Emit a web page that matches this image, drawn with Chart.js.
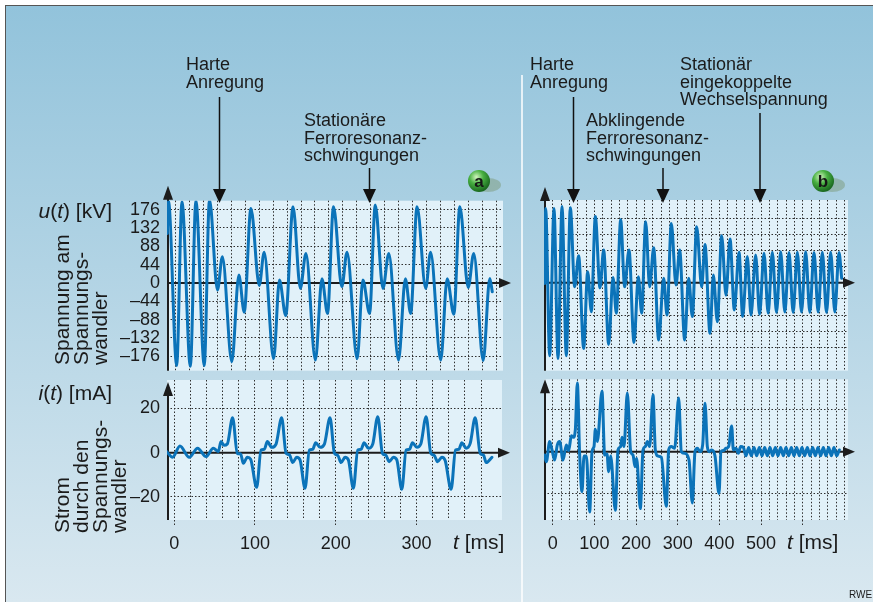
<!DOCTYPE html>
<html>
<head>
<meta charset="utf-8">
<script src="https://cdn.jsdelivr.net/npm/chart.js"></script>
<style>
  body { margin: 0; background: #fff; }
  #page { position: relative; width: 873px; height: 604px; overflow: hidden; font-family: "Liberation Sans", Arial, sans-serif; color: #1b1b1b; }
  #frame { position: absolute; left: 5px; top: 5px; right: -2px; bottom: 2px; border-top: 1px solid #555; border-left: 1px solid #555;
           background: linear-gradient(#92c3db, #d9e8f0); }
  canvas { position: absolute; }
  svg { position: absolute; left: 0; top: 0; }
  .note { position: absolute; font-size: 18px; line-height: 17.5px; white-space: pre; }
  .ttl { position: absolute; font-size: 21px; line-height: 21px; white-space: pre; }
  .vert { position: absolute; writing-mode: vertical-rl; transform: rotate(180deg); font-size: 21px; line-height: 19px; white-space: pre; }
</style>
</head>
<body>
<div id="page">
  <div id="frame"></div>
  <canvas id="voltA" width="425" height="200" style="left:95px;top:180px"></canvas>
  <canvas id="currA" width="425" height="200" style="left:95px;top:370px"></canvas>
  <canvas id="voltB" width="373" height="200" style="left:500px;top:180px"></canvas>
  <canvas id="currB" width="373" height="200" style="left:500px;top:370px"></canvas>

  <svg width="873" height="604">
    <defs>
      <radialGradient id="ball" cx="38%" cy="32%" r="70%">
        <stop offset="0" stop-color="#d2f5bf"/>
        <stop offset="0.45" stop-color="#48b042"/>
        <stop offset="1" stop-color="#17641c"/>
      </radialGradient>
    </defs>
    <line x1="522" y1="75" x2="522" y2="604" stroke="#fff" stroke-width="1.5"/>
    <g stroke="#111" stroke-width="1.5" fill="#111">
      <line x1="219.5" y1="97" x2="219.5" y2="192"/><polygon points="213,189 226,189 219.5,203" stroke="none"/>
      <line x1="369.5" y1="168" x2="369.5" y2="192"/><polygon points="363,189 376,189 369.5,203" stroke="none"/>
      <line x1="573.5" y1="97" x2="573.5" y2="192"/><polygon points="567,189 580,189 573.5,203" stroke="none"/>
      <line x1="663" y1="168" x2="663" y2="192"/><polygon points="656.5,189 669.5,189 663,203" stroke="none"/>
      <line x1="760" y1="113" x2="760" y2="192"/><polygon points="753.5,189 766.5,189 760,203" stroke="none"/>
    </g>
    <ellipse cx="488" cy="185" rx="13" ry="7" fill="#7f9f84" opacity="0.55"/>
    <circle cx="479" cy="181" r="11" fill="url(#ball)"/>
    <text x="479" y="187" text-anchor="middle" font-family="Liberation Sans, Arial" font-weight="bold" font-size="17" fill="#161616">a</text>
    <ellipse cx="832" cy="185" rx="13" ry="7" fill="#7f9f84" opacity="0.55"/>
    <circle cx="823" cy="181" r="11" fill="url(#ball)"/>
    <text x="823" y="187" text-anchor="middle" font-family="Liberation Sans, Arial" font-weight="bold" font-size="17" fill="#161616">b</text>
  </svg>

  <div class="note" style="left:186px;top:56px">Harte
Anregung</div>
  <div class="note" style="left:304px;top:112px">Stationäre
Ferroresonanz-
schwingungen</div>
  <div class="note" style="left:530px;top:56px">Harte
Anregung</div>
  <div class="note" style="left:586px;top:112px">Abklingende
Ferroresonanz-
schwingungen</div>
  <div class="note" style="left:680px;top:56px">Stationär
eingekoppelte
Wechselspannung</div>

  <div class="ttl" style="right:761px;top:200px"><i>u</i>(<i>t</i>) [kV]</div>
  <div class="ttl" style="right:761px;top:382px"><i>i</i>(<i>t</i>) [mA]</div>
  <div class="ttl" style="left:453px;top:531px"><i>t</i> [ms]</div>
  <div class="ttl" style="left:787px;top:531px"><i>t</i> [ms]</div>
  <div class="vert" style="left:52px;top:231px;height:134px">Spannung am
Spannungs-
wandler</div>
  <div class="vert" style="left:52px;top:408px;height:125px">Strom
durch den
Spannungs-
wandler</div>
  <div style="position:absolute;left:849px;top:589px;font-size:10px">RWE</div>
</div>

<script>
// ---- data ----
// (a) voltage at the transformer, kV over ms
const voltTimeA = [-12, -10.5, 1.4, 9, 21, 29, 41, 48.5, 60, 67, 80.6, 90.7, 98.4,
  108, 120, 127, 140.6, 149, 158, 168.5, 179, 187, 200.6, 210, 218,
  226.6, 238.6, 246, 260.6, 268.8, 278.4, 286.6, 297.6, 306, 320, 329.8, 337.4,
  346.6, 359, 366, 380.6, 389.8, 399.4, 408, 420, 428, 441.6, 451, 454.6];
const voltValueA = [119, 198, -198, 195, -200, 197, -198, 200, -17, 63, -189, 19, -70,
  179, -6, 74, -182, 7, -78, 183, -13, 71, -185, 10, -73,
  183, -9, 74, -182, 7, -73, 187, -13, 71, -185, 10, -73,
  183, -13, 74, -185, 10, -75, 183, -11, 71, -186, 11, -21];

// (a) current through the transformer, mA over ms
const currTimeA = [-9.5, -2.1, 7.0, 18.6, 28.9, 39.3, 48.4, 54.6, 57.9, 61.6, 65.7,
  72.3, 78.1, 82.2, 85.6, 90.5, 94.6, 102.1, 107.5, 111.6, 115.3, 120.7, 126.1,
  133.1, 138.5, 142.6, 146.7, 151.7, 155.8, 162.0, 167.4, 171.5, 175.2, 180.6, 186.0,
  193.0, 198.4, 202.5, 206.7, 211.6, 215.7, 221.9, 227.3, 231.4, 235.2, 240.5, 245.9,
  252.1, 257.9, 262.0, 266.2, 271.5, 275.7, 281.9, 287.2, 291.4, 295.1, 300.5, 305.4,
  312.0, 317.8, 322.0, 326.1, 331.5, 335.6, 343.0, 348.4, 352.5, 356.3, 361.6, 366.6,
  372.8, 379.0, 383.1, 386.4, 393.5];
const currValueA = [0.5, -2.1, 3.0, -2.1, 2.0, -1.8, 2.0, 0.5, 5.0, 3.3, 3.9,
  15.8, -0.3, -0.6, -4.8, -2.1, -3.0, -15.7, 1.2, 1.5, 5.0, 2.4, 3.9,
  15.8, -0.3, -0.9, -4.5, -2.1, -3.3, -16.1, 1.2, 1.5, 4.5, 2.4, 3.9,
  15.8, -0.3, -1.2, -4.5, -2.1, -3.3, -16.1, 1.2, 1.5, 4.5, 2.0, 3.9,
  16.3, -0.3, -1.1, -4.1, -2.1, -3.3, -16.6, 1.2, 1.5, 4.5, 2.4, 3.9,
  16.3, -0.3, -1.2, -4.1, -2.1, -3.6, -16.6, 1.2, 1.5, 4.5, 2.0, 4.2,
  15.8, -0.3, -1.1, -4.5, -2.1];

// (b) voltage, decaying ferroresonance then steady 50 Hz
const voltTimeB = [-19.3, -16.9, -7.3, 3.1, 12.7, 22.3, 32.7, 42.3, 52.7, 62.3, 74.3, 83.9, 92.7,
  102.3, 113.5, 122.3, 134.3, 144.7, 152.7, 163.1, 172.7, 183.1, 195.1, 205.5, 213.5,
  223.1, 232.7, 242.3, 254.3, 266.3, 274.3, 284.7, 295.9, 304.7, 316.7, 326.3, 335.1,
  345.5, 357.5, 365.5, 377.5, 385.5, 395.1, 405.5, 415.9, 425.5, 435.9,
  447.1, 455.9, 467.1, 475.9, 487.1, 496.5, 507.1, 517.1, 527.1, 537.1, 547.1, 557.1,
  567.1, 577.1, 587.1, 597.1, 607.1, 617.1, 627.1, 637.1, 647.1, 657.1, 667.1, 677.1,
  687.1, 693.5];
const voltValueB = [-2, 202, -199, 202, -206, 207, -199, 204, -11, 73, -179, 30, -79,
  180, -14, 89, -168, 14, -83, 171, -11, 89, -163, 16, -83,
  166, -11, 95, -156, 12, -88, 161, -6, 89, -156, 12, -92,
  152, -11, 104, -138, 21, -106, 128, -34, 119, -74,
  83, -92, 71, -88, 75, -86, 80, -83, 83, -81, 84, -80,
  82, -81, 83, -80, 84, -81, 82, -80, 83, -81, 83, -80,
  82, 12];

// (b) current
const currTimeB = [-19.3, -15.3, -7.3, -1.7, 4.7, 11.1, 16.7, 24.7, 32.7, 38.3, 44.7, 49.5, 54.3,
  59.1, 64.7, 70.3, 75.1, 80.7, 88.7, 94.3, 99.1, 102.3, 107.1,
  118.3, 124.7, 130.3, 134.3, 139.1, 150.3, 156.7, 163.1, 166.3, 171.1,
  179.1, 187.1, 192.7, 197.5, 201.5, 210.3, 216.7, 222.3, 227.1, 232.7,
  240.7, 246.3, 252.7, 260.7, 272.7, 278.3, 284.7, 292.7,
  302.3, 308.7, 316.7, 327.1, 335.1, 341.5, 347.1, 353.5, 359.9,
  365.5, 371.1, 375.9, 381.5, 389.5, 399.1, 403.9, 409.5, 415.9, 422.3,
  429.5, 433.5, 439.9, 445.5, 451.1,
  457.5, 463.9, 470.3, 476.7, 483.1, 489.5, 495.9, 502.3, 508.7, 515.1, 521.5, 527.9,
  534.3, 540.7, 547.1, 553.5, 559.9, 566.3, 572.7, 579.1, 585.5, 591.9, 598.3, 604.7,
  611.1, 617.5, 623.9, 630.3, 636.7, 643.1, 649.5, 655.9, 662.3, 668.7, 675.1, 681.5, 687.9];
const currValueB = [-1.6, -4.8, 4.8, 0.8, -4.0, 3.2, 4.8, -4.0, 3.2, 0.5, 7.5, 6.8, 10.3,
  32.5, -1.6, -19.0, -2.1, -2.1, -28.6, 0, 2.4, 10.6, 4.8,
  28.6, -1.6, -1.1, -9.5, -2.1, -27.8, 0.8, 2.4, 6.8, 2.4,
  27.8, 0, -1.6, -7.1, -3.2, -27.0, 0.8, 2.4, 4.8, 2.4,
  27.0, 0.8, -2.1, -2.7, -25.9, 0.8, 2.4, 1.6,
  25.4, 0, -0.8, -4.0, -24.3, 0, 1.6, 0, 3.2,
  23.0, 2.4, 0, 0.8, -2.1, -19.8, 0, 0.5, 1.6, 2.4,
  12.2, 0.8, 1.6, -0.8, 2.4,
  2.0, -2.0, 2.0, -2.0, 2.0, -2.0, 2.0, -2.0, 2.0, -2.0, 2.0, -2.0,
  2.0, -2.0, 2.0, -2.0, 2.0, -2.0, 2.0, -2.0, 2.0, -2.0, 2.0, -2.0,
  2.0, -2.0, 2.0, -2.0, 2.0, -2.0, 2.0, -2.0, 2.0, -2.0, 2.0, -2.0, 0.8];

// tick values / labels
const voltTicks = [176, 132, 88, 44, 0, -44, -88, -132, -176];
const currTicks = [20, 0, -20];
const timeLabelsA = [0, 100, 200, 300];
const timeLabelsB = [0, 100, 200, 300, 400, 500, 600];
const timeLabelsShownB = [0, 100, 200, 300, 400, 500];
const gridStepMs = 20;

function stepTicks(from, to, step) {
  const out = [];
  for (let v = from; v <= to; v += step) out.push(v);
  return out;
}
function fmt(v) { return v < 0 ? '\u2013' + Math.abs(v) : String(v); }

// light plot area + axes with arrow heads
const plotArea = {
  id: 'plotArea',
  beforeDraw(chart) {
    const { ctx, chartArea: a } = chart;
    ctx.save();
    ctx.fillStyle = '#e1f1f9';
    ctx.fillRect(a.left, a.top, a.right - a.left, a.bottom - a.top);
    ctx.restore();
  },
  beforeDatasetsDraw(chart, args, opts) {
    const { ctx, chartArea: a, scales } = chart;
    const y0 = scales.y.getPixelForValue(0);
    const xEnd = a.right + opts.xTip;
    const yTop = a.top - opts.yTip;
    const ax = a.left + 1;
    ctx.save();
    ctx.strokeStyle = '#1c1c1c';
    ctx.fillStyle = '#1c1c1c';
    ctx.lineWidth = 2;
    ctx.beginPath();
    ctx.moveTo(a.left, y0); ctx.lineTo(xEnd - 8, y0);
    ctx.moveTo(ax, a.bottom); ctx.lineTo(ax, yTop + 8);
    ctx.stroke();
    ctx.beginPath();
    ctx.moveTo(xEnd, y0); ctx.lineTo(xEnd - 12, y0 - 5); ctx.lineTo(xEnd - 12, y0 + 5); ctx.closePath();
    ctx.moveTo(ax, yTop); ctx.lineTo(ax - 5, yTop + 14); ctx.lineTo(ax + 5, yTop + 14); ctx.closePath();
    ctx.fill();
    ctx.restore();
  }
};

function plot(id, times, values, o) {
  const points = times.map((t, k) => ({ x: t, y: values[k] }));
  const tickFont = { family: 'Liberation Sans', size: 18 };
  return new Chart(document.getElementById(id), {
    type: 'line',
    data: {
      datasets: [{
        data: points,
        borderColor: '#0b73b9',
        borderWidth: 3,
        pointRadius: 0,
        cubicInterpolationMode: 'monotone',
        borderJoinStyle: 'round',
        borderCapStyle: 'round'
      }]
    },
    options: {
      responsive: false,
      animation: false,
      devicePixelRatio: 1,
      events: [],
      layout: { padding: o.pad },
      plugins: {
        legend: { display: false },
        tooltip: { enabled: false },
        plotArea: { xTip: o.xTip, yTip: o.yTip }
      },
      scales: {
        x: {
          type: 'linear', min: o.xMin, max: o.xMax,
          afterBuildTicks: s => { s.ticks = o.xGrid.map(v => ({ value: v })); },
          afterFit: s => { s.height = o.xH; s.paddingLeft = 0; s.paddingRight = 0; },
          grid: {
            color: '#2e2e2e', lineWidth: 1,
            drawTicks: o.xLabels.length > 0, tickLength: 7,
            tickColor: c => o.xLabels.includes(c.tick.value) ? '#2e2e2e' : 'rgba(0,0,0,0)',
            tickBorderDash: [1.5, 2], borderDash: [1.5, 2]
          },
          border: { display: false, dash: [1.5, 2] },
          ticks: {
            display: o.xLabels.length > 0, autoSkip: false, maxRotation: 0, padding: 6,
            color: '#1b1b1b', font: tickFont,
            callback: v => o.xShown.includes(v) ? String(v) : ''
          }
        },
        y: {
          min: o.yMin, max: o.yMax,
          afterBuildTicks: s => { s.ticks = o.yGrid.map(v => ({ value: v })); },
          afterFit: s => { s.width = o.yW; s.paddingTop = 0; s.paddingBottom = 0; },
          grid: {
            color: c => c.tick.value === 0 ? 'rgba(0,0,0,0)' : '#2e2e2e',
            lineWidth: 1, drawTicks: false, borderDash: [1.5, 2]
          },
          border: { display: false, dash: [1.5, 2] },
          ticks: {
            display: o.yLabels, autoSkip: false, padding: 7, color: '#1b1b1b', font: tickFont,
            callback: v => fmt(v)
          }
        }
      }
    },
    plugins: [plotArea]
  });
}

plot('voltA', voltTimeA, voltValueA, {
  xMin: -12.5, xMax: 470, yMin: -210.5, yMax: 197.5,
  xGrid: stepTicks(0, 460, gridStepMs), xLabels: [], xShown: [], xH: 0,
  yGrid: voltTicks, yLabels: true, yW: 72,
  pad: { left: 0, top: 20.7, right: 17, bottom: 9.3 }, xTip: 8, yTip: 15
});
plot('currA', currTimeA, currValueA, {
  xMin: -9, xMax: 406, yMin: -30.5, yMax: 32.9,
  xGrid: stepTicks(0, 380, gridStepMs), xLabels: timeLabelsA, xShown: timeLabelsA, xH: 50,
  yGrid: currTicks, yLabels: true, yW: 72,
  pad: { left: 0, top: 10, right: 18, bottom: 0 }, xTip: 8, yTip: -2
});
plot('voltB', voltTimeB, voltValueB, {
  xMin: -20.9, xMax: 708.7, yMin: -239.5, yMax: 225,
  xGrid: stepTicks(0, 700, gridStepMs), xLabels: [], xShown: [], xH: 0,
  yGrid: voltTicks, yLabels: false, yW: 44,
  pad: { left: 0, top: 20, right: 25, bottom: 9.3 }, xTip: 7, yTip: 13
});
plot('currB', currTimeB, currValueB, {
  xMin: -20.9, xMax: 708.7, yMin: -32.4, yMax: 34.3,
  xGrid: stepTicks(0, 700, gridStepMs), xLabels: timeLabelsB, xShown: timeLabelsShownB, xH: 50,
  yGrid: currTicks, yLabels: false, yW: 44,
  pad: { left: 0, top: 9.3, right: 25, bottom: 0 }, xTip: 7, yTip: 0
});
</script>
</body>
</html>
